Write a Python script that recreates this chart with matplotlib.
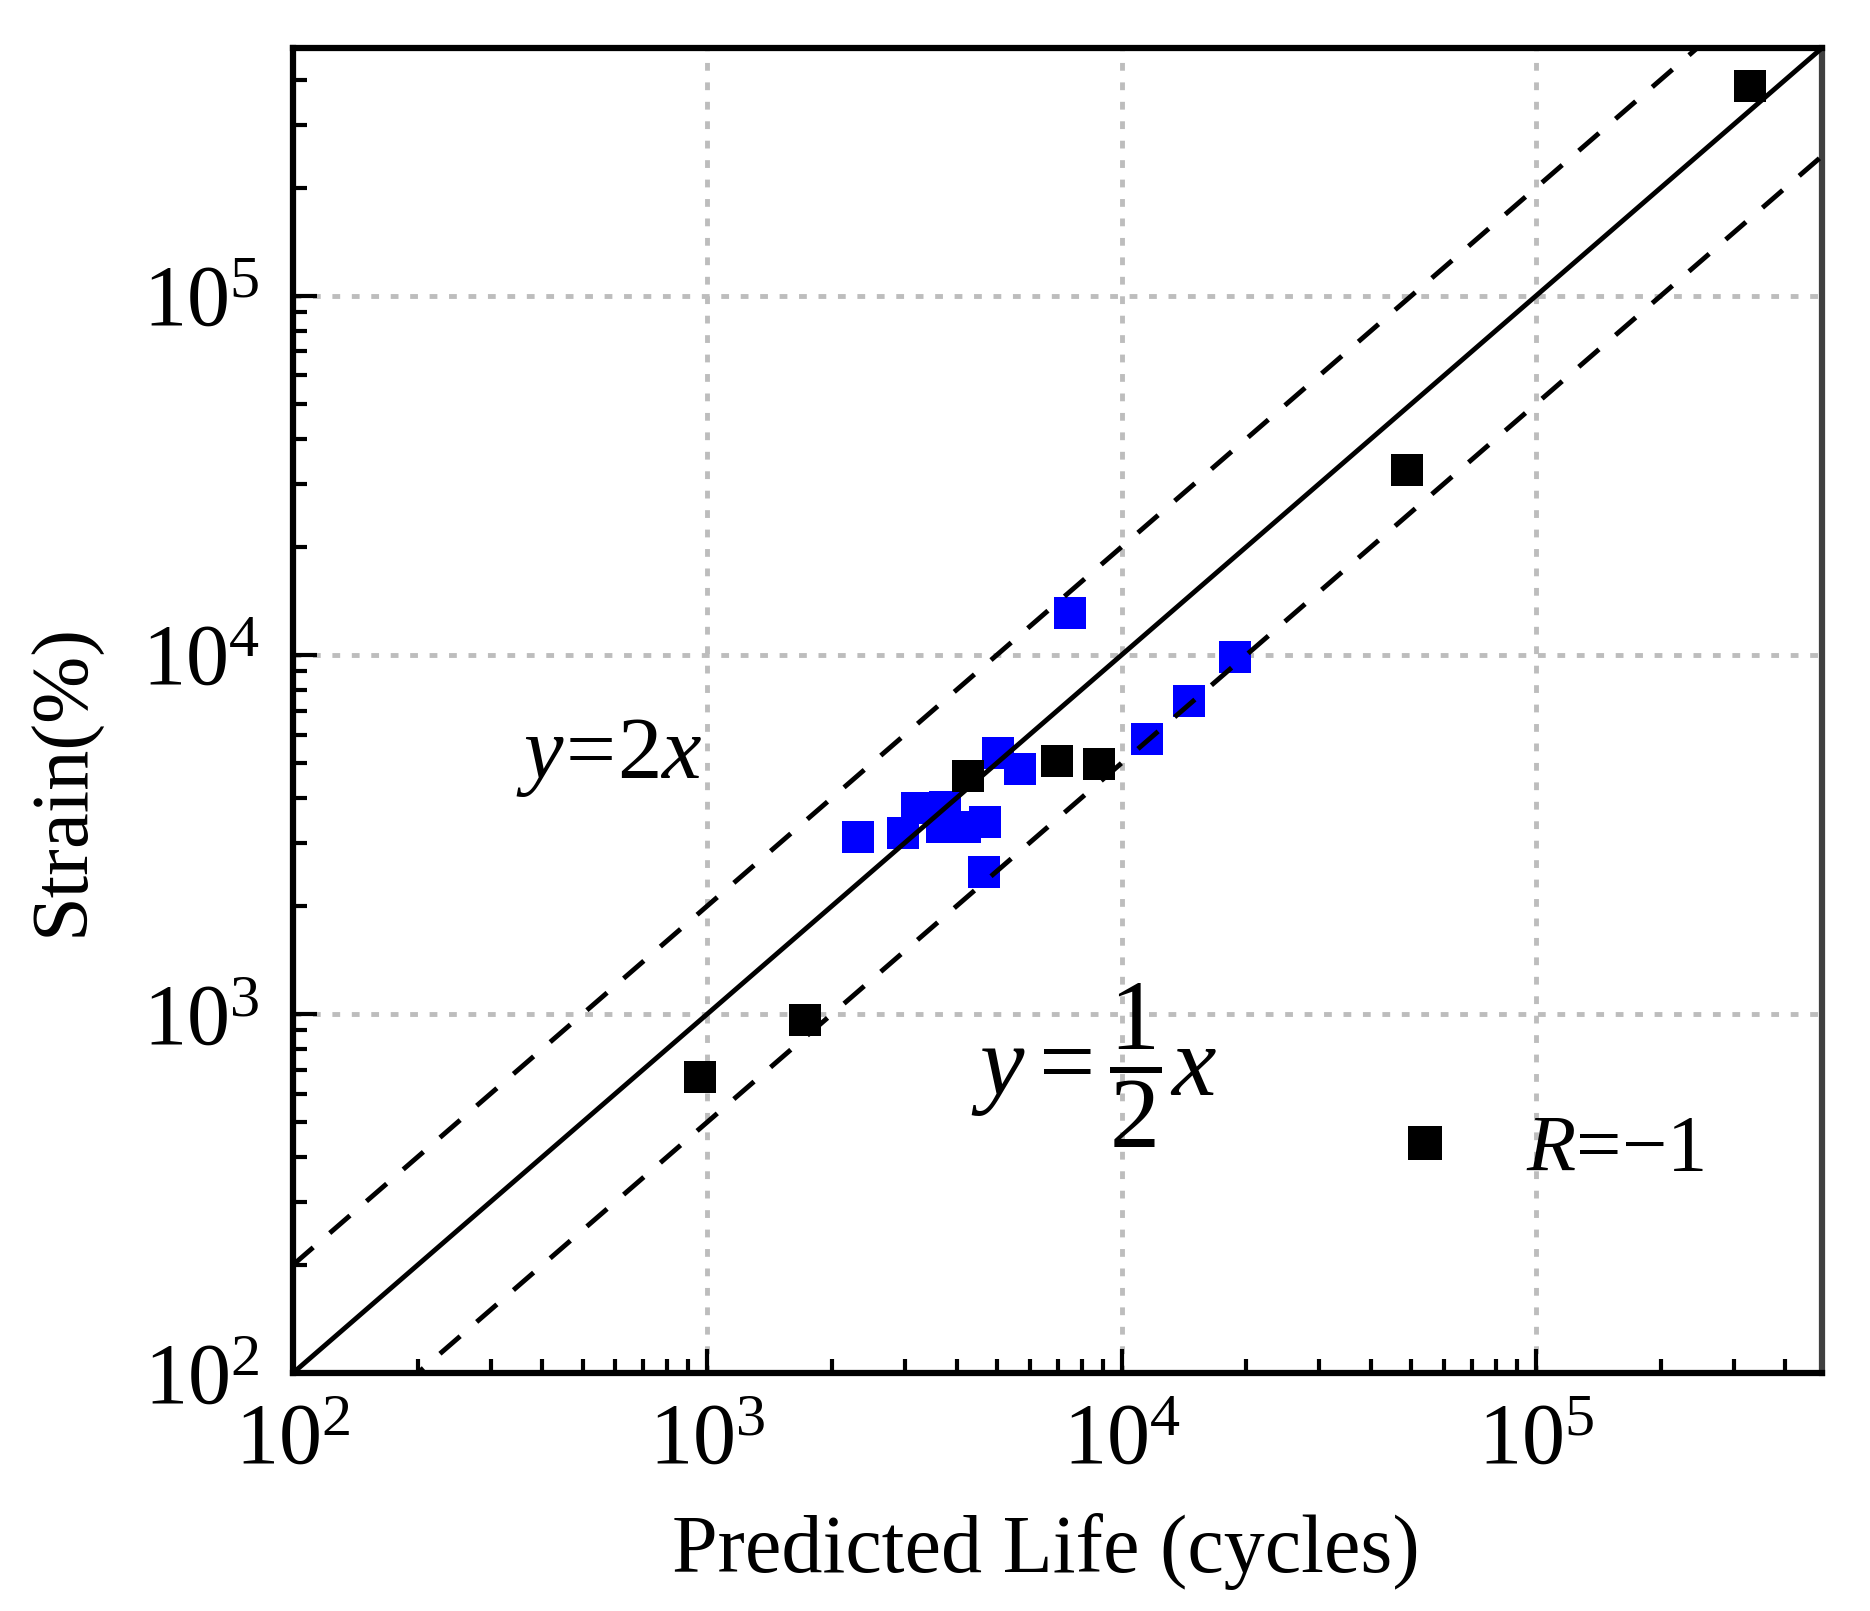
import numpy as np
import matplotlib
matplotlib.use("Agg")
import matplotlib.pyplot as plt

# data (predicted life, strain)
black_x = [3.29e5, 4.88e4, 4260, 6985, 8840, 1725, 962]
black_y = [3.83e5, 3.28e4, 4600, 5075, 4970, 962, 669]

blue_x = [7520, 18750, 14550, 11500, 5030, 5670, 2315, 2970, 3200, 3745, 3675, 4180, 4675, 4650]
blue_y = [13100, 9890, 7460, 5840, 5320, 4815, 3119, 3200, 3740, 3780, 3310, 3310, 3435, 2490]

lim = [1e2, 4.9e5]
legend_label = r'$R$=−1'

plt.rcParams['font.family'] = ['Liberation Serif', 'DejaVu Serif']
plt.rcParams['mathtext.fontset'] = 'custom'
plt.rcParams['mathtext.rm'] = 'Liberation Serif'
plt.rcParams['mathtext.it'] = 'Liberation Serif:italic'

fig = plt.figure(figsize=(18.7, 16.11), dpi=100)
ax = fig.add_axes([293/1870, 1 - 1373/1611, (1822 - 293)/1870, (1373 - 48)/1611])

ax.set_xscale('log')
ax.set_yscale('log')
ax.set_xlim(lim)
ax.set_ylim(lim)

# points
ax.plot(blue_x, blue_y, 's', color='#0000ff', markersize=23, markeredgewidth=0, zorder=2)
ax.plot(black_x, black_y, 's', color='black', markersize=23, markeredgewidth=0,
        zorder=2, label=legend_label)

# reference lines y=x, y=2x, y=x/2
xl = np.array(lim)
ax.plot(xl, xl, '-', color='black', lw=3.5, zorder=3)
ax.plot(xl, 2 * xl, color='black', lw=3.5, dashes=(5.5, 4.5), zorder=3)
ax.plot(xl, 0.5 * xl, color='black', lw=3.5, dashes=(5.5, 4.5), zorder=3)

ax.grid(True, which='major', color='#bdbdbd', lw=3.5, dashes=(1.6, 2.4), zorder=0)
ax.set_axisbelow(True)

for side in ['left', 'right', 'top', 'bottom']:
    ax.spines[side].set_linewidth(4.5)
ax.spines['right'].set_color('#404040')

ax.tick_params(which='both', direction='in', top=False, right=False, width=3)
ax.tick_params(which='major', length=17, labelsize=62)
ax.tick_params(which='minor', length=10)
ax.tick_params(axis='x', which='major', pad=22)
ax.tick_params(axis='y', which='major', pad=24)

ax.text(580, 4540, r'$y\!=\!2x$', fontsize=64, ha='center', va='baseline', zorder=4)
ax.text(8600, 590, r'$y=\dfrac{1}{2}x$', fontsize=72, ha='center', va='baseline', zorder=4)

ax.legend(loc='center left', bbox_to_anchor=(0.714, 0.1675), frameon=False,
          fontsize=58, handlelength=1.0, handletextpad=0.75, borderpad=0,
          borderaxespad=0, markerscale=25/23)

fig.text(1046/1870, 1 - 1572/1611, 'Predicted Life (cycles)', fontsize=59,
         ha='center', va='baseline')
fig.text(64/1870, 1 - 780/1611, 'Strain(%)', fontsize=58, rotation=90,
         ha='center', va='center')

fig.savefig('out.png', dpi=100)
